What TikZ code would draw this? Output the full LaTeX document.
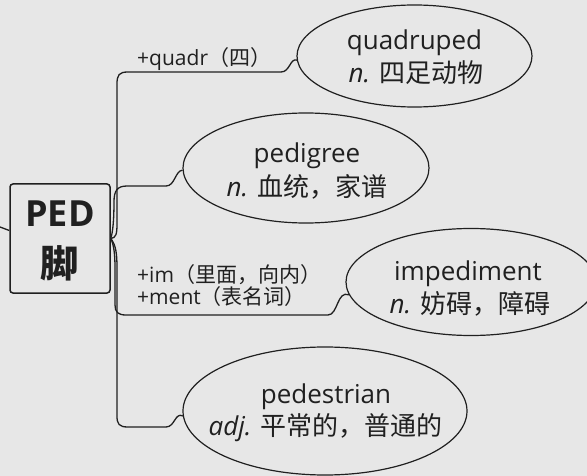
\documentclass[tikz,border=0pt]{standalone}
\usepackage{fontspec}
\setmainfont{Open Sans}
\newfontfamily\cjk{Noto Sans CJK SC}
\usetikzlibrary{shapes.geometric}
\definecolor{bg}{RGB}{231,231,231}
\definecolor{ink}{RGB}{32,32,32}
\begin{document}
\begin{tikzpicture}[x=1pt,y=-1pt,
  bubble/.style={draw=ink, ellipse, inner sep=0pt, line width=1.2pt},
  word/.style={anchor=base, inner sep=0pt, text=ink, font=\fontsize{26}{30}\selectfont},
  lbl/.style={anchor=base west, inner sep=0pt, text=ink, font=\fontsize{21}{25}\selectfont},
  branch/.style={draw=ink, line width=1.3pt},
  rootbox/.style={draw=ink, line width=1.5pt, rounded corners=3pt, inner sep=0pt, minimum width=100pt, minimum height=109pt}]
\fill[bg] (0,0) rectangle (587,476);
\useasboundingbox (0,0) rectangle (587,476);

% root
\node[rootbox] (box) at (60,238.5) {};
\node[anchor=base, inner sep=0pt, text=ink, font=\fontsize{36}{40}\selectfont\bfseries] (ped) at (60,227) {PED};
\node[anchor=base, inner sep=0pt, text=ink, font=\fontsize{38}{40}\selectfont\bfseries\cjk] (jiao) at (60,277) {脚};
\coordinate (lft) at (0,227);
\draw[branch] (lft) -- (box.171);

% bubbles
\node[bubble, minimum width=235pt, minimum height=102pt] (q) at (414.5,56) {};
\node[bubble, minimum width=246pt, minimum height=110pt] (pg) at (306,168) {};
\node[bubble, minimum width=250pt, minimum height=107pt] (im) at (471,282) {};
\node[bubble, minimum width=284pt, minimum height=128pt] (ps) at (325,411) {};

% bubble texts
\node[word] (q1) at (414.5,50) {quadruped};
\node[word] (q2) at (416,83) {{\itshape n.} {\cjk 四足动物}};
\node[word] (p1) at (307,163) {pedigree};
\node[word] (p2) at (307,197) {{\itshape n.} {\cjk 血统，家谱}};
\node[word] (i1) at (468,280) {impediment};
\node[word] (i2) at (470,313) {{\itshape n.} {\cjk 妨碍，障碍}};
\node[word] (s1) at (326,403) {pedestrian};
\node[word] (s2) at (325.5,435) {{\itshape adj.} {\cjk 平常的，普通的}};

% branches
\draw[branch] (box.east) .. controls (116,238) and (117,234) .. (117,224)
  -- (117,84) .. controls (117,75) and (119,72) .. (128,72)
  -- (281,72) .. controls (290,72) and (290,58) .. (q.182);
\draw[branch] (box.east) .. controls (113,232) and (114,218) .. (114,202)
  .. controls (114,191) and (117,186) .. (127,186)
  -- (166,186) .. controls (175,186) and (175,171) .. (pg.181);
\draw[branch] (box.east) .. controls (114,245) and (115,255) .. (115,268)
  -- (115,305) .. controls (115,312) and (118,315) .. (126,315)
  -- (328,315) .. controls (338,315) and (337,290) .. (im.186);
\draw[branch] (box.east) .. controls (116,245) and (117,254) .. (117,268)
  -- (117,416) .. controls (117,424) and (119,427) .. (128,427)
  -- (166,427) .. controls (175,427) and (175,412) .. (ps.182);

% branch labels
\node[lbl] (lq) at (137,66) {+quadr{\cjk （四）}};
\node[lbl] (li1) at (137,282) {+im{\cjk （里面，向内）}};
\node[lbl] (li2) at (137,305) {+ment{\cjk （表名词）}};
\end{tikzpicture}
\end{document}
